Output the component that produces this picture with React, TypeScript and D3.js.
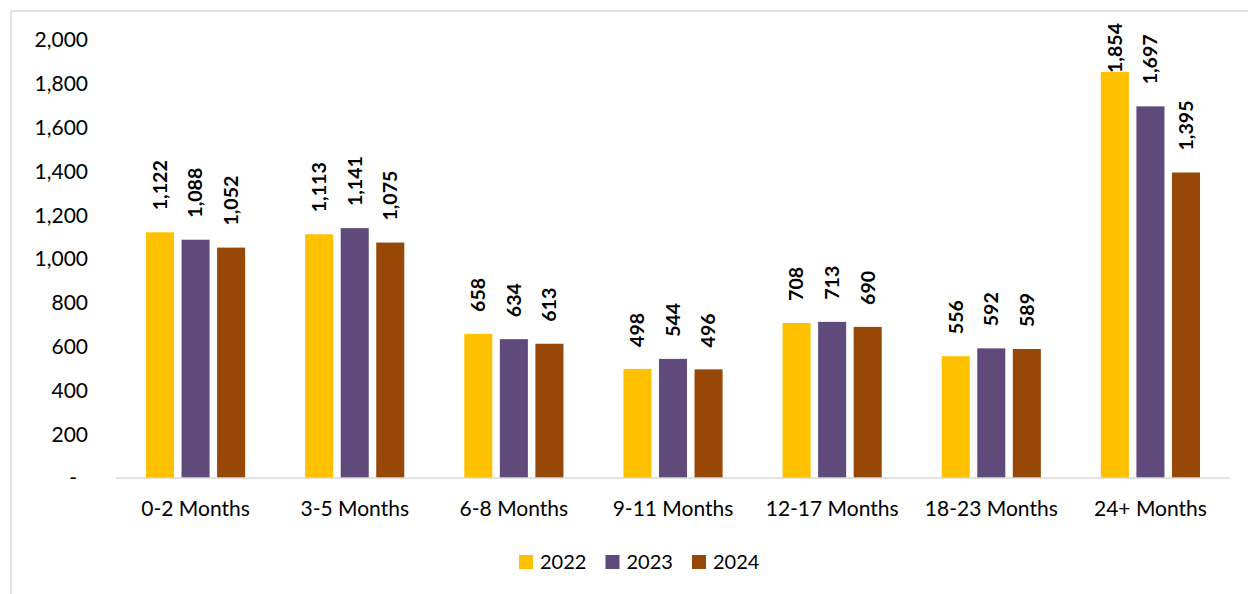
import React from "react";
import * as d3 from "d3";

const categories = ["0-2 Months", "3-5 Months", "6-8 Months", "9-11 Months", "12-17 Months", "18-23 Months", "24+ Months"];
const seriesNames = ["2022", "2023", "2024"];
const values2022 = [1122, 1113, 658, 498, 708, 556, 1854];
const values2023 = [1088, 1141, 634, 544, 713, 592, 1697];
const values2024 = [1052, 1075, 613, 496, 690, 589, 1395];
const colors = ["#FFC000", "#604A7B", "#974706"];
const yTicks = [0, 200, 400, 600, 800, 1000, 1200, 1400, 1600, 1800, 2000];

const W = 1248;
const H = 594;
const FONT = "Lato, 'Open Sans', sans-serif";

export default function App() {
  const seriesValues = [values2022, values2023, values2024];
  const plotLeft = 116;
  const plotRight = 1230;
  const y = d3.scaleLinear().domain([0, 2000]).range([478, 40]);
  const x0 = d3.scaleBand<string>().domain(categories).range([plotLeft, plotRight]).paddingInner(0.377).paddingOuter(0.1885);
  const x1 = d3.scaleBand<string>().domain(seriesNames).range([0, x0.bandwidth()]).paddingInner(0.211).paddingOuter(0);
  const fmt = d3.format(",");
  const tickFmt = (d: number) => (d === 0 ? "-" : fmt(d));

  const legendItemW = 86.5;
  const legendStart = 519;

  return (
    <svg width={W} height={H} style={{ position: "absolute", left: 0, top: 0, background: "#fff" }} fontFamily={FONT}>
      <rect x={11} y={11} width={1400} height={800} fill="#fff" stroke="#d9d9d9" strokeWidth={1.5} />
      {yTicks.map((t) => (
        <text key={t} x={t === 0 ? 77 : 88} y={y(t)} dy="0.35em" textAnchor="end" fontSize={21} fill="#000">
          {tickFmt(t)}
        </text>
      ))}
      {categories.map((c, ci) => (
        <g key={c} transform={`translate(${x0(c)},0)`}>
          {seriesNames.map((s, si) => {
            const v = seriesValues[si][ci];
            const bx = x1(s)!;
            const bw = x1.bandwidth();
            const top = y(v);
            const labelBottom = Math.max(top - 22, 73);
            return (
              <g key={s}>
                <rect x={bx} y={top} width={bw} height={y(0) - top} fill={colors[si]} />
                <text
                  transform={`translate(${bx + bw / 2},${labelBottom}) rotate(-90)`}
                  dy="0.35em"
                  textAnchor="start"
                  fontSize={19.6}
                  fontWeight="bold"
                  fill="#000"
                >
                  {fmt(v)}
                </text>
              </g>
            );
          })}
          <text x={x0.bandwidth() / 2} y={509} dy="0.35em" textAnchor="middle" fontSize={21} fill="#000">
            {c}
          </text>
        </g>
      ))}
      <line x1={plotLeft} x2={plotRight} y1={478} y2={478} stroke="#d9d9d9" strokeWidth={1.5} />
      {seriesNames.map((s, si) => (
        <g key={s} transform={`translate(${legendStart + si * legendItemW},0)`}>
          <rect x={0} y={555} width={14} height={14} fill={colors[si]} />
          <text x={21} y={562} dy="0.35em" fontSize={20} fill="#000">
            {s}
          </text>
        </g>
      ))}
    </svg>
  );
}
